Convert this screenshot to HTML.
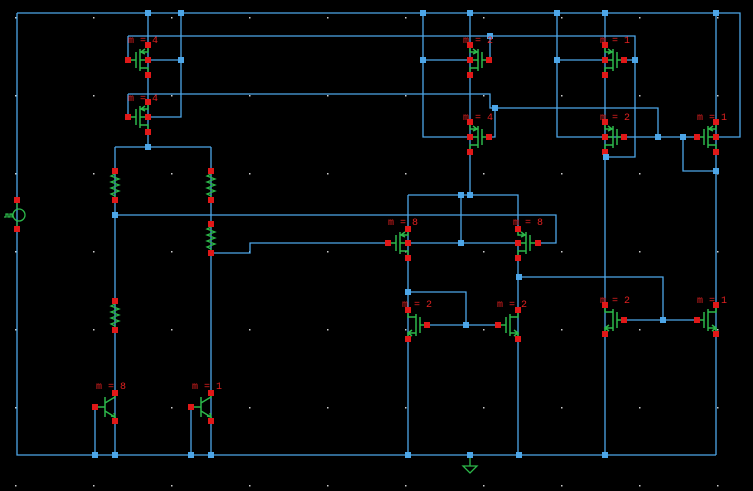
<!DOCTYPE html>
<html><head><style>
html,body{margin:0;padding:0;background:#000;width:753px;height:491px;overflow:hidden}
svg{display:block}
text{font-family:"Liberation Mono",monospace;font-size:10px;fill:#e02020}
</style></head><body>
<svg width="753" height="491" viewBox="0 0 753 491" xmlns="http://www.w3.org/2000/svg">
<defs>
<pattern id="g" x="15" y="17" width="78" height="78" patternUnits="userSpaceOnUse"><rect x="0" y="0" width="1.5" height="1.5" fill="#ccc"/></pattern>
<g id="mL" fill="none" stroke="#2cb84a" stroke-width="1.5">
<path d="M-20,0H-12M-12,-8V8M-8,-11V11M-8,-8H0V-15M-8,8H0V15M-8,0H0M-3,-11l-4,3l4,2"/>
</g>
<g id="mR"><use href="#mL" transform="scale(-1,1)"/></g>
<g id="nL" fill="none" stroke="#2cb84a" stroke-width="1.5">
<path d="M-20,0H-12M-12,-8V8M-8,-11V11M-8,-8H0V-15M-8,8H0V15M-4,5l4,3l-4,3"/>
</g>
<g id="nR"><use href="#nL" transform="scale(-1,1)"/></g>
<g id="res" fill="none" stroke="#2cb84a" stroke-width="1.3"><path d="M0,0V3l-4,2l8,3l-8,3l8,3l-8,3l8,3l-8,3l4,2V29"/></g>
<g id="bjt" fill="none" stroke="#2cb84a" stroke-width="1.5"><path d="M-20,14H-10M-10,4V24M-10,10L0,4V0M-10,18L0,24V28M-4,23l4,1l-1,-4"/></g>
</defs>
<rect width="753" height="491" fill="url(#g)"/>
<g fill="none" stroke="#4da6e8" stroke-width="1.3">
<path d="M17,13H740V137H716M17,13V455H716M148,13V147M181,13V117H148M148,60H181M128,36H635V157H606M128,36V60M128,94H490V108H658V137M128,94V117M115,147H211M115,147V455M211,147V455M115,215H556V243H538M211,253H250V243H388M95,407V455M191,407V455"/>
<path d="M423,13V137H470M423,60H470M470,13V195M490,36V60M495,108V137H489M408,195H518V232M408,195V455M461,195V243M408,243H518M408,292H466V325M427,325H498M518,243V455M519,277H663V320M624,320H697M605,13V455M716,13V455M557,13V137H697M557,60H605M624,60H635M683,137V171H716"/>
</g>
<!-- transistors -->
<use href="#mL" x="148" y="60"/><use href="#mL" x="148" y="117"/>
<use href="#mR" x="470" y="60"/><use href="#mR" x="470" y="137"/>
<use href="#mR" x="605" y="60"/><use href="#mR" x="605" y="137"/>
<use href="#mL" x="716" y="137"/>
<use href="#mL" x="408" y="243"/><use href="#mR" x="518" y="243"/>
<use href="#nR" x="408" y="325"/><use href="#nL" x="518" y="325"/>
<use href="#nR" x="605" y="320"/><use href="#nL" x="716" y="320"/>
<use href="#res" x="115" y="171"/><use href="#res" x="211" y="171"/><use href="#res" x="211" y="224"/><use href="#res" x="115" y="301"/>
<use href="#bjt" x="115" y="393"/><use href="#bjt" x="211" y="393"/>
<!-- source -->
<g fill="none" stroke="#2cb84a" stroke-width="1.3"><path d="M17,200V208M17,222V229"/><circle cx="19" cy="215" r="6"/><path d="M4,217h2v-3h2v3h2v-3h2v3h2"/></g>
<!-- ground -->
<g fill="none" stroke="#2cb84a" stroke-width="1.3"><path d="M470,455V466M463,466H477L470,473Z"/></g>
<!-- red pins -->
<g fill="#e01818">
<rect x="14" y="197" width="6" height="6"/><rect x="14" y="226" width="6" height="6"/>
<rect x="145" y="42" width="6" height="6"/><rect x="145" y="57" width="6" height="6"/><rect x="145" y="72" width="6" height="6"/><rect x="125" y="57" width="6" height="6"/>
<rect x="145" y="99" width="6" height="6"/><rect x="145" y="114" width="6" height="6"/><rect x="145" y="129" width="6" height="6"/><rect x="125" y="114" width="6" height="6"/>
<rect x="467" y="42" width="6" height="6"/><rect x="467" y="72" width="6" height="6"/><rect x="467" y="57" width="6" height="6"/><rect x="486" y="57" width="6" height="6"/>
<rect x="467" y="119" width="6" height="6"/><rect x="467" y="149" width="6" height="6"/><rect x="467" y="134" width="6" height="6"/><rect x="486" y="134" width="6" height="6"/>
<rect x="602" y="42" width="6" height="6"/><rect x="602" y="72" width="6" height="6"/><rect x="602" y="57" width="6" height="6"/><rect x="621" y="57" width="6" height="6"/>
<rect x="602" y="119" width="6" height="6"/><rect x="602" y="149" width="6" height="6"/><rect x="602" y="134" width="6" height="6"/><rect x="621" y="134" width="6" height="6"/>
<rect x="713" y="119" width="6" height="6"/><rect x="713" y="149" width="6" height="6"/><rect x="713" y="134" width="6" height="6"/><rect x="694" y="134" width="6" height="6"/>
<rect x="405" y="226" width="6" height="6"/><rect x="405" y="240" width="6" height="6"/><rect x="405" y="255" width="6" height="6"/><rect x="385" y="240" width="6" height="6"/>
<rect x="515" y="226" width="6" height="6"/><rect x="515" y="240" width="6" height="6"/><rect x="515" y="255" width="6" height="6"/><rect x="535" y="240" width="6" height="6"/>
<rect x="405" y="307" width="6" height="6"/><rect x="405" y="336" width="6" height="6"/><rect x="424" y="322" width="6" height="6"/>
<rect x="515" y="307" width="6" height="6"/><rect x="515" y="336" width="6" height="6"/><rect x="495" y="322" width="6" height="6"/>
<rect x="602" y="302" width="6" height="6"/><rect x="602" y="331" width="6" height="6"/><rect x="621" y="317" width="6" height="6"/>
<rect x="713" y="302" width="6" height="6"/><rect x="713" y="331" width="6" height="6"/><rect x="694" y="317" width="6" height="6"/>
<rect x="112" y="168" width="6" height="6"/><rect x="112" y="197" width="6" height="6"/><rect x="208" y="168" width="6" height="6"/><rect x="208" y="197" width="6" height="6"/>
<rect x="208" y="221" width="6" height="6"/><rect x="208" y="250" width="6" height="6"/><rect x="112" y="298" width="6" height="6"/><rect x="112" y="327" width="6" height="6"/>
<rect x="112" y="390" width="6" height="6"/><rect x="112" y="418" width="6" height="6"/><rect x="92" y="404" width="6" height="6"/>
<rect x="208" y="390" width="6" height="6"/><rect x="208" y="418" width="6" height="6"/><rect x="188" y="404" width="6" height="6"/>
</g>
<!-- junctions -->
<g fill="#4da6e8">
<rect x="145" y="10" width="6" height="6"/><rect x="178" y="10" width="6" height="6"/><rect x="178" y="57" width="6" height="6"/><rect x="145" y="144" width="6" height="6"/>
<rect x="112" y="212" width="6" height="6"/><rect x="420" y="10" width="6" height="6"/><rect x="467" y="10" width="6" height="6"/><rect x="420" y="57" width="6" height="6"/>
<rect x="487" y="33" width="6" height="6"/><rect x="492" y="105" width="6" height="6"/><rect x="554" y="10" width="6" height="6"/><rect x="602" y="10" width="6" height="6"/>
<rect x="713" y="10" width="6" height="6"/><rect x="554" y="57" width="6" height="6"/><rect x="632" y="57" width="6" height="6"/><rect x="603" y="154" width="6" height="6"/>
<rect x="655" y="134" width="6" height="6"/><rect x="680" y="134" width="6" height="6"/><rect x="713" y="168" width="6" height="6"/>
<rect x="458" y="192" width="6" height="6"/><rect x="467" y="192" width="6" height="6"/><rect x="458" y="240" width="6" height="6"/>
<rect x="405" y="289" width="6" height="6"/><rect x="463" y="322" width="6" height="6"/><rect x="516" y="274" width="6" height="6"/><rect x="660" y="317" width="6" height="6"/>
<rect x="92" y="452" width="6" height="6"/><rect x="112" y="452" width="6" height="6"/><rect x="188" y="452" width="6" height="6"/><rect x="208" y="452" width="6" height="6"/>
<rect x="405" y="452" width="6" height="6"/><rect x="467" y="452" width="6" height="6"/><rect x="516" y="452" width="6" height="6"/><rect x="602" y="452" width="6" height="6"/>
</g>
<text x="128" y="43">m = 4</text><text x="128" y="101">m = 4</text>
<text x="463" y="43">m = 2</text><text x="463" y="120">m = 4</text>
<text x="600" y="43">m = 1</text><text x="600" y="120">m = 2</text>
<text x="697" y="120">m = 1</text>
<text x="388" y="225">m = 8</text><text x="513" y="225">m = 8</text>
<text x="402" y="307">m = 2</text><text x="497" y="307">m = 2</text>
<text x="600" y="303">m = 2</text><text x="697" y="303">m = 1</text>
<text x="96" y="389">m = 8</text><text x="192" y="389">m = 1</text>
</svg>
</body></html>
